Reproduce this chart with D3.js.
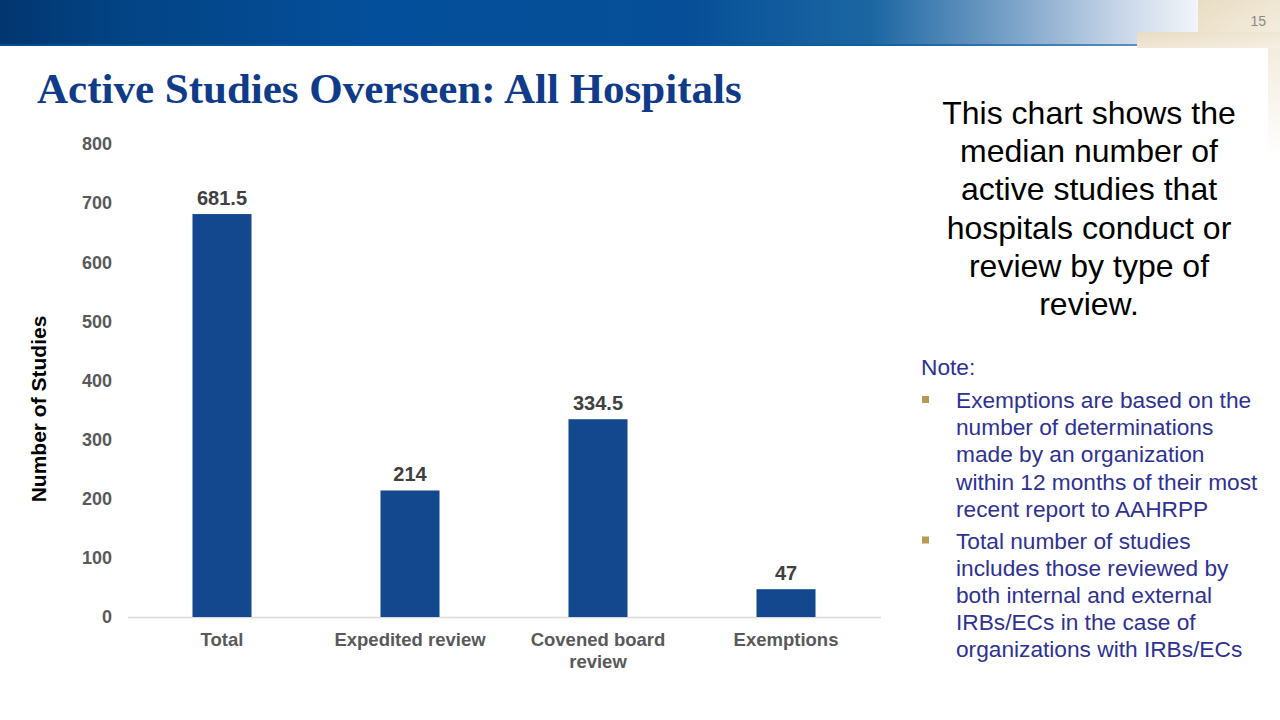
<!DOCTYPE html>
<html><head><meta charset="utf-8">
<script src="https://cdn.jsdelivr.net/npm/d3@7"></script>
<style>body{margin:0;background:#fff;}svg{display:block;}</style>
</head><body>
<svg id="c" width="1280" height="720"></svg>
<script>
const categories = ["Total", "Expedited review", "Covened board review", "Exemptions"];
const categoryLines = [["Total"], ["Expedited review"], ["Covened board", "review"], ["Exemptions"]];
const values = [681.5, 214, 334.5, 47];
const valueLabels = ["681.5", "214", "334.5", "47"];
const yTicks = [0, 100, 200, 300, 400, 500, 600, 700, 800];
const descLines = ["This chart shows the", "median number of", "active studies that", "hospitals conduct or", "review by type of", "review."];
const noteBullets = [
  ["Exemptions are based on the", "number of determinations", "made by an organization", "within 12 months of their most", "recent report to AAHRPP"],
  ["Total number of studies", "includes those reviewed by", "both internal and external", "IRBs/ECs in the case of", "organizations with IRBs/ECs"]
];

const svg = d3.select("#c");
const defs = svg.append("defs");
const g1 = defs.append("linearGradient").attr("id","hdr").attr("x1","0").attr("x2","1").attr("y1","0").attr("y2","0");
[[0,"#023670"],[0.1,"#034485"],[0.3,"#044f9b"],[0.55,"#064f98"],[0.7,"#1b66a2"],[0.8,"#6f9bc4"],[0.9,"#c8d6e8"],[0.97,"#f7f9fc"],[1,"#ffffff"]]
  .forEach(([o,c])=>g1.append("stop").attr("offset",o).attr("stop-color",c));
const g2 = defs.append("linearGradient").attr("id","beige").attr("x1","0").attr("x2","1").attr("y1","0").attr("y2","1");
g2.append("stop").attr("offset",0).attr("stop-color","#e8dcc3");
g2.append("stop").attr("offset",1).attr("stop-color","#f6f0e4");
const g3 = defs.append("linearGradient").attr("id","beigeV").attr("x1","0").attr("x2","0").attr("y1","0").attr("y2","1");
g3.append("stop").attr("offset",0).attr("stop-color","#f3ecdf");
g3.append("stop").attr("offset",1).attr("stop-color","#ffffff");

// header
svg.append("rect").attr("x",0).attr("y",0).attr("width",1245).attr("height",46).attr("fill","url(#hdr)");
svg.append("rect").attr("x",0).attr("y",44).attr("width",1140).attr("height",2).attr("fill","#0b5a9c").attr("opacity",0.6);
// beige decoration
svg.append("rect").attr("x",1198).attr("y",0).attr("width",82).attr("height",48).attr("fill","url(#beige)");
svg.append("rect").attr("x",1137).attr("y",32).attr("width",143).attr("height",16).attr("fill","url(#beige)");
svg.append("rect").attr("x",1268).attr("y",48).attr("width",12).attr("height",110).attr("fill","url(#beigeV)");
svg.append("text").attr("x",1266).attr("y",26).attr("text-anchor","end").attr("font-family","Liberation Sans, Arial, sans-serif")
  .attr("font-size",14).attr("fill","#8a8a8a").text("15");

// title
svg.append("text").attr("x",37).attr("y",103).attr("font-family","Liberation Serif, Times New Roman, serif")
  .attr("font-weight","bold").attr("font-size",43).attr("fill","#0f3b88").text("Active Studies Overseen: All Hospitals");

// chart
const x = d3.scaleBand().domain(categories).range([128, 880]).paddingInner(0.686).paddingOuter(0.343);
const y = d3.scaleLinear().domain([0, 800]).range([617, 144]);

const font = "Liberation Sans, Arial, sans-serif";
const yAxis = svg.append("g").attr("transform","translate(112,0)")
  .call(d3.axisLeft(y).tickValues(yTicks).tickSize(0).tickPadding(0));
yAxis.select(".domain").remove();
yAxis.selectAll("text").attr("font-family",font).attr("font-size",18).attr("font-weight","bold").attr("fill","#595959");

svg.append("line").attr("x1",128).attr("x2",881).attr("y1",y(0)+0.5).attr("y2",y(0)+0.5).attr("stroke","#d9d9d9").attr("stroke-width",1.5);

svg.selectAll(".bar").data(values).join("rect").attr("class","bar")
  .attr("x",(d,i)=>x(categories[i])).attr("width",x.bandwidth())
  .attr("y",d=>y(d)).attr("height",d=>y(0)-y(d)).attr("fill","#13488e");

svg.selectAll(".vl").data(values).join("text").attr("class","vl")
  .attr("x",(d,i)=>x(categories[i])+x.bandwidth()/2).attr("y",d=>y(d)-9)
  .attr("text-anchor","middle").attr("font-family",font).attr("font-size",20).attr("font-weight","bold").attr("fill","#404040")
  .text((d,i)=>valueLabels[i]);

const xl = svg.selectAll(".xl").data(categories).join("text").attr("class","xl")
  .attr("x",d=>x(d)+x.bandwidth()/2).attr("y",646)
  .attr("text-anchor","middle").attr("font-family",font).attr("font-size",18.5).attr("font-weight","bold").attr("fill","#595959");
xl.each(function(d,i){
  d3.select(this).selectAll("tspan").data(categoryLines[i]).join("tspan")
    .attr("x",x(d)+x.bandwidth()/2).attr("dy",(t,j)=>j===0?0:22).text(t=>t);
});

svg.append("text").attr("transform","translate(46,409) rotate(-90)").attr("text-anchor","middle")
  .attr("font-family",font).attr("font-size",21).attr("font-weight","bold").attr("fill","#000").text("Number of Studies");

// description
svg.selectAll(".desc").data(descLines).join("text").attr("class","desc")
  .attr("x",1089).attr("y",(d,i)=>124+i*38.2).attr("text-anchor","middle")
  .attr("font-family",font).attr("font-size",32).attr("fill","#000").text(d=>d);

// note
svg.append("text").attr("x",921).attr("y",375).attr("font-family",font).attr("font-size",22.7).attr("fill","#2e3192").text("Note:");
let yy = 408;
noteBullets.forEach((lines)=>{
  svg.append("rect").attr("x",922).attr("y",yy-12).attr("width",7).attr("height",7).attr("fill","#b69a52");
  lines.forEach((l,j)=>{
    svg.append("text").attr("x",956).attr("y",yy+j*27.2).attr("font-family",font).attr("font-size",22.7).attr("fill","#2e3192").text(l);
  });
  yy += lines.length*27.2 + 4.5;
});
</script>
</body></html>
